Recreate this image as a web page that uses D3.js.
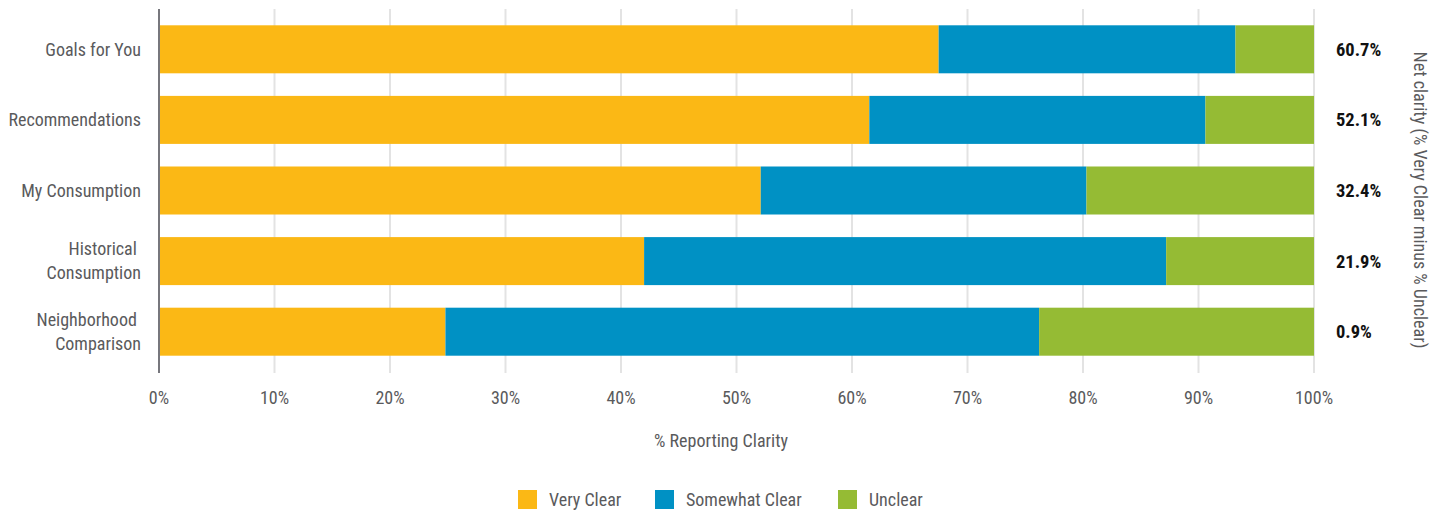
<!DOCTYPE html>
<html>
<head>
<meta charset="utf-8">
<script src="https://cdn.jsdelivr.net/npm/d3@7"></script>
<style>
  body { margin: 0; background: #fff; }
  text { font-family: "Roboto Condensed", "Liberation Sans Narrow", "DejaVu Sans Condensed", sans-serif; }
</style>
</head>
<body>
<div id="chart"></div>
<script>
var categories = ["Goals for You", "Recommendations", "My Consumption", "Historical Consumption", "Neighborhood Comparison"];
var categoryLines = [["Goals for You"], ["Recommendations"], ["My Consumption"], ["Historical ", "Consumption"], ["Neighborhood ", "Comparison"]];
var veryClear = [67.5, 61.5, 52.1, 42.0, 24.8];
var somewhatClear = [25.7, 29.1, 28.2, 45.2, 51.4];
var unclear = [6.8, 9.4, 19.7, 12.8, 23.8];
var netLabels = ["60.7%", "52.1%", "32.4%", "21.9%", "0.9%"];
var seriesNames = ["Very Clear", "Somewhat Clear", "Unclear"];
var seriesColors = ["#fbb815", "#0091c4", "#95bb34"];
var xTicks = [0, 10, 20, 30, 40, 50, 60, 70, 80, 90, 100];

function init() {
    var W = 1442, H = 514;
    var left = 159, right = 1314;

    var svg = d3.select("#chart").append("svg")
        .attr("width", W).attr("height", H);

    var x = d3.scaleLinear().domain([0, 100]).range([left, right]);
    var y = d3.scaleBand().domain(categories).range([14, 367]).paddingInner(0.32).paddingOuter(0.16);

    // gridlines
    svg.append("g").selectAll("line")
        .data(xTicks.slice(1))
        .enter().append("line")
        .attr("x1", function(d) { return x(d); })
        .attr("x2", function(d) { return x(d); })
        .attr("y1", 9).attr("y2", 373)
        .attr("stroke", "#e3e3e3").attr("stroke-width", 2);

    // stacked data
    var rows = categories.map(function(c, i) {
        return { cat: c, "Very Clear": veryClear[i], "Somewhat Clear": somewhatClear[i], "Unclear": unclear[i] };
    });
    var stack = d3.stack().keys(seriesNames)(rows);

    svg.append("g").selectAll("g")
        .data(stack)
        .enter().append("g")
        .attr("fill", function(d, i) { return seriesColors[i]; })
        .selectAll("rect")
        .data(function(d) { return d; })
        .enter().append("rect")
        .attr("x", function(d) { return x(d[0]); })
        .attr("width", function(d) { return x(d[1]) - x(d[0]); })
        .attr("y", function(d) { return y(d.data.cat); })
        .attr("height", y.bandwidth());

    // y axis line
    svg.append("line")
        .attr("x1", left).attr("x2", left)
        .attr("y1", 9).attr("y2", 373)
        .attr("stroke", "#77777d").attr("stroke-width", 2);

    // category labels
    var labels = svg.append("g").selectAll("text")
        .data(categories)
        .enter().append("text")
        .attr("text-anchor", "end")
        .attr("fill", "#5a5a5c")
        .style("font-size", "18px");
    labels.each(function(c, i) {
        var lines = categoryLines[i];
        var cy = y(c) + y.bandwidth() / 2;
        var t = d3.select(this);
        lines.forEach(function(l, j) {
            t.append("tspan")
                .attr("x", 141)
                .attr("y", cy + (j - (lines.length - 1) / 2) * 24)
                .attr("dy", "0.35em")
                .text(l);
        });
    });

    // net clarity labels
    svg.append("g").selectAll("text")
        .data(netLabels)
        .enter().append("text")
        .attr("x", 1336)
        .attr("y", function(d, i) { return y(categories[i]) + y.bandwidth() / 2; })
        .attr("dy", "0.35em")
        .attr("fill", "#111")
        .style("font-size", "18.5px")
        .style("font-weight", "bold")
        .text(function(d) { return d; });

    svg.append("text")
        .attr("transform", "translate(1414,200) rotate(90)")
        .attr("text-anchor", "middle")
        .attr("fill", "#5a5a5c")
        .style("font-size", "18px")
        .text("Net clarity (% Very Clear minus % Unclear)");

    // x tick labels
    svg.append("g").selectAll("text")
        .data(xTicks)
        .enter().append("text")
        .attr("x", function(d) { return x(d); })
        .attr("y", 398)
        .attr("dy", "0.35em")
        .attr("text-anchor", "middle")
        .attr("fill", "#5a5a5c")
        .style("font-size", "18px")
        .text(function(d) { return d + "%"; });

    svg.append("text")
        .attr("x", 721).attr("y", 441)
        .attr("dy", "0.35em")
        .attr("text-anchor", "middle")
        .attr("fill", "#5a5a5c")
        .style("font-size", "18px")
        .text("% Reporting Clarity");

    // legend
    var legendX = [518, 655, 838];
    var leg = svg.append("g").selectAll("g")
        .data(seriesNames)
        .enter().append("g")
        .attr("transform", function(d, i) { return "translate(" + legendX[i] + ",490)"; });
    leg.append("rect")
        .attr("width", 19).attr("height", 19)
        .attr("fill", function(d, i) { return seriesColors[i]; });
    leg.append("text")
        .attr("x", 31).attr("y", 9.5)
        .attr("dy", "0.35em")
        .attr("fill", "#5a5a5c")
        .style("font-size", "18px")
        .text(function(d) { return d; });
}

window.onload = init;
</script>
</body>
</html>
